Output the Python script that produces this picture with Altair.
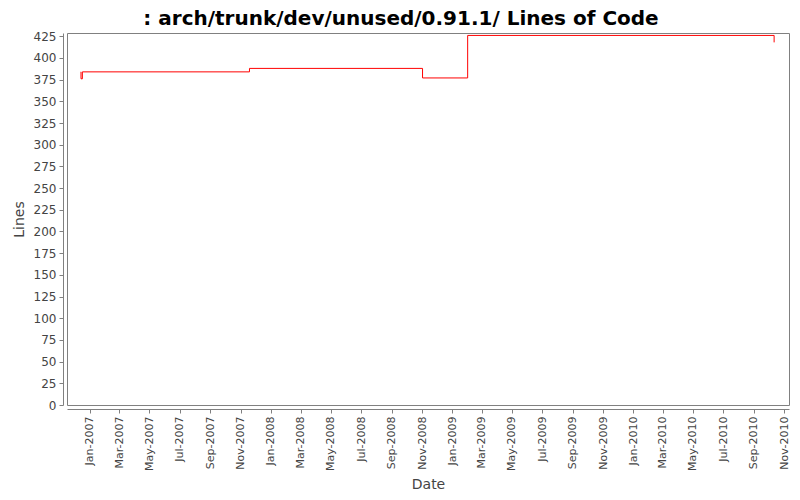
import altair as alt
import pandas as pd

dates = [
    "2006-12-14T00:00:00", "2006-12-14T06:00:00", "2006-12-17T00:00:00",
    "2007-11-19T00:00:00", "2008-11-02T00:00:00", "2009-02-01T00:00:00",
    "2010-10-12T00:00:00",
]
lines = [384, 376, 384, 388, 377, 426, 418]

tick_months = [(y, m) for y in range(2007, 2011) for m in (1, 3, 5, 7, 9, 11)]

df = pd.DataFrame({"date": dates, "lines": lines})

FONT = "DejaVu Sans"

chart = (
    alt.Chart(df)
    .mark_line(interpolate="step-after", color="#ff0000", strokeWidth=1)
    .encode(
        x=alt.X(
            "date:T",
            title="Date",
            scale=alt.Scale(
                type="utc",
                domain=[
                    alt.DateTime(year=2006, month=11, date=16, utc=True),
                    alt.DateTime(year=2010, month=11, date=11, utc=True),
                ],
                nice=False,
            ),
            axis=alt.Axis(
                values=[alt.DateTime(year=y, month=m, date=1, utc=True) for y, m in tick_months],
                format="%b-%Y",
                labelAngle=270,
                labelFontSize=11,
                labelPadding=3,
                titleFontSize=14,
                titlePadding=7,
            ),
        ),
        y=alt.Y(
            "lines:Q",
            title="Lines",
            scale=alt.Scale(domain=[0, 428.8], nice=False, zero=False),
            axis=alt.Axis(
                values=list(range(0, 426, 25)),
                labelFontSize=12,
                labelPadding=3,
                titleFontSize=14,
                titlePadding=7,
            ),
        ),
    )
    .properties(
        width=722,
        height=372,
        background="white",
        autosize=alt.AutoSizeParams(type="none"),
        padding={"left": 59, "top": 25, "right": 3, "bottom": 86},
        title=alt.TitleParams(
            text=": arch/trunk/dev/unused/0.91.1/ Lines of Code",
            fontSize=20,
            fontWeight="bold",
            font=FONT,
            color="#000000",
            anchor="middle",
            dx=-27,
            offset=1,
        ),
    )
    .configure_view(stroke="#808080", strokeWidth=1)
    .configure_axis(
        grid=False,
        offset=4,
        domainColor="#808080",
        tickColor="#808080",
        tickSize=4,
        labelColor="#444444",
        titleColor="#444444",
        labelFont=FONT,
        titleFont=FONT,
        titleFontWeight="normal",
    )
)

chart.save("out.html", embed_options={"renderer": "svg", "actions": False})
